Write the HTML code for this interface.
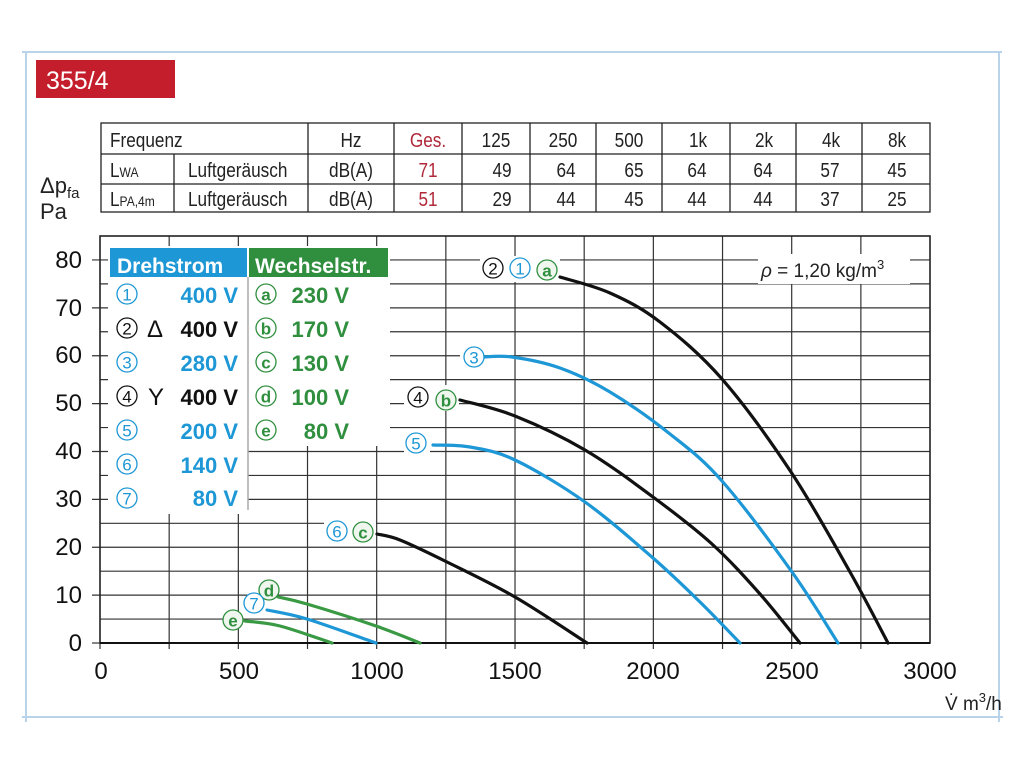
<!DOCTYPE html>
<html><head><meta charset="utf-8"><style>
html,body{margin:0;padding:0;background:#fff;}
svg{display:block;}
.n{font-family:"Liberation Sans",sans-serif;transform:scaleX(.86);transform-box:fill-box;}
.nl{transform-origin:left center}
.nm{transform-origin:center}
.s{font-family:"Liberation Sans",sans-serif;}
</style></head><body>
<svg width="1024" height="768" viewBox="0 0 1024 768" xmlns="http://www.w3.org/2000/svg">
<g stroke="#b9d3ea" stroke-width="2" fill="none">
<line x1="22" y1="52" x2="1002" y2="52"/>
<line x1="26" y1="52" x2="26" y2="722"/>
<line x1="22" y1="717" x2="1003" y2="717"/>
<line x1="999" y1="52" x2="999" y2="722"/>
</g>
<rect x="36" y="60" width="139" height="38" fill="#c41e2c"/>
<text x="46" y="89" class="s" font-size="25" fill="#fff">355/4</text>

<g stroke="#222" stroke-width="1.3" fill="none">
<rect x="101" y="123" width="829" height="89"/>
<line x1="101" y1="154" x2="930" y2="154"/>
<line x1="101" y1="184" x2="930" y2="184"/>
<line x1="174" y1="154" x2="174" y2="212"/>
<line x1="308" y1="123" x2="308" y2="212"/>
<line x1="394" y1="123" x2="394" y2="212"/>
<line x1="462" y1="123" x2="462" y2="212"/>
<line x1="530" y1="123" x2="530" y2="212"/>
<line x1="596" y1="123" x2="596" y2="212"/>
<line x1="662" y1="123" x2="662" y2="212"/>
<line x1="730" y1="123" x2="730" y2="212"/>
<line x1="796" y1="123" x2="796" y2="212"/>
<line x1="862" y1="123" x2="862" y2="212"/>
</g>
<g font-size="20" fill="#222">
<text class="n nl" x="110" y="147">Frequenz</text>
<text class="n nl" x="110" y="177">L<tspan font-size="14">WA</tspan></text>
<text class="n nl" x="110" y="206">L<tspan font-size="14">PA,4m</tspan></text>
<text class="n nl" x="188" y="177">Luftgeräusch</text>
<text class="n nl" x="188" y="206">Luftgeräusch</text>
<g text-anchor="middle">
<text class="n nm" x="351" y="147">Hz</text><text class="n nm" x="351" y="177">dB(A)</text><text class="n nm" x="351" y="206">dB(A)</text>
<text class="n nm" x="428" y="147" fill="#b0283a">Ges.</text><text class="n nm" x="428" y="177" fill="#b0283a">71</text><text class="n nm" x="428" y="206" fill="#b0283a">51</text>
<text class="n nm" x="496" y="147">125</text><text class="n nm" x="502" y="177">49</text><text class="n nm" x="502" y="206">29</text>
<text class="n nm" x="563" y="147">250</text><text class="n nm" x="566" y="177">64</text><text class="n nm" x="566" y="206">44</text>
<text class="n nm" x="629" y="147">500</text><text class="n nm" x="634" y="177">65</text><text class="n nm" x="634" y="206">45</text>
<text class="n nm" x="698" y="147">1k</text><text class="n nm" x="697" y="177">64</text><text class="n nm" x="697" y="206">44</text>
<text class="n nm" x="764" y="147">2k</text><text class="n nm" x="763" y="177">64</text><text class="n nm" x="763" y="206">44</text>
<text class="n nm" x="831" y="147">4k</text><text class="n nm" x="830" y="177">57</text><text class="n nm" x="830" y="206">37</text>
<text class="n nm" x="897" y="147">8k</text><text class="n nm" x="897" y="177">45</text><text class="n nm" x="897" y="206">25</text>
</g></g>
<text x="40" y="193" class="s" font-size="22" fill="#222">Δp<tspan font-size="15" dy="5">fa</tspan></text>
<text x="40" y="219" class="s" font-size="22" fill="#222">Pa</text>

<g id="grid" stroke="#333" stroke-width="1.2" fill="none"></g>
<rect x="100" y="236" width="830" height="407" fill="none" stroke="#222" stroke-width="1.6"/>
<line x1="100" y1="643" x2="930" y2="643" stroke="#111" stroke-width="2"/>

<g class="s" font-size="24" fill="#111" text-anchor="end">
<text x="82" y="268">80</text><text x="82" y="316">70</text><text x="82" y="363">60</text>
<text x="82" y="411">50</text><text x="82" y="459">40</text><text x="82" y="507">30</text>
<text x="82" y="555">20</text><text x="82" y="603">10</text><text x="82" y="651">0</text>
</g>
<g class="s" font-size="24" fill="#111" text-anchor="middle">
<text x="101" y="679">0</text><text x="239" y="679">500</text><text x="377" y="679">1000</text>
<text x="515" y="679">1500</text><text x="653" y="679">2000</text><text x="792" y="679">2500</text>
<text x="930" y="679">3000</text>
</g>
<text x="945" y="710" class="s" font-size="19" fill="#222">V̇ m<tspan font-size="13" dy="-8">3</tspan><tspan dy="8">/h</tspan></text>

<rect x="758" y="254" width="152" height="30" fill="#fff"/>
<text x="761" y="277" class="s" font-size="19" fill="#222"><tspan font-style="italic">ρ</tspan> = 1,20 kg/m<tspan font-size="13" dy="-8">3</tspan></text>

<rect x="108" y="246" width="140" height="268" fill="#fff"/>
<rect x="248" y="246" width="142" height="200" fill="#fff"/>
<rect x="110" y="248" width="137" height="29" fill="#1d97d5"/>
<rect x="249" y="248" width="139" height="29" fill="#2f8f3e"/>
<line x1="248" y1="277" x2="248" y2="510" stroke="#aaa" stroke-width="1.5"/>
<g class="s" font-size="21" font-weight="bold" fill="#fff">
<text x="117" y="273">Drehstrom</text><text x="255" y="273">Wechselstr.</text>
</g>
<g class="s" font-size="24" fill="#111">
<text x="147" y="337">Δ</text>
<text x="148" y="405">Y</text>
</g>
<g class="s" font-size="22" font-weight="bold" text-anchor="end">
<text x="238" y="303" fill="#1d97d5">400 V</text>
<text x="238" y="337" fill="#111">400 V</text>
<text x="238" y="371" fill="#1d97d5">280 V</text>
<text x="238" y="405" fill="#111">400 V</text>
<text x="238" y="439" fill="#1d97d5">200 V</text>
<text x="238" y="473" fill="#1d97d5">140 V</text>
<text x="238" y="506" fill="#1d97d5">80 V</text>
<g fill="#2f8f3e"><text x="349" y="303">230 V</text><text x="349" y="337">170 V</text><text x="349" y="371">130 V</text><text x="349" y="405">100 V</text><text x="349" y="439">80 V</text></g>
</g>

<rect x="480" y="256" width="80" height="26" fill="#fff"/>
<rect x="460" y="345" width="24" height="24" fill="#fff"/>
<rect x="404" y="385" width="55" height="26" fill="#fff"/>
<rect x="404" y="432" width="26" height="24" fill="#fff"/>
<rect x="324" y="520" width="52" height="26" fill="#fff"/>

<g id="curves" fill="none" stroke-width="3.2" stroke-linecap="round"></g>
<g id="marks"></g>
</svg>
<script>
var g=document.getElementById('grid'),s='';
for(var i=1;i<12;i++){var x=100+i*69.17;s+='<line x1="'+x+'" y1="236" x2="'+x+'" y2="649"/>';}
for(var j=1;j<17;j++){var y=643-j*23.94;s+='<line x1="'+(j%2==0?92:100)+'" y1="'+y+'" x2="930" y2="'+y+'"/>';}
s+='<line x1="92" y1="643" x2="100" y2="643"/><line x1="100" y1="643" x2="100" y2="649"/>';
g.innerHTML=s;
function path(p){var d='M'+p[0][0]+','+p[0][1];
for(var i=0;i<p.length-1;i++){var p0=p[i-1]||p[i],p1=p[i],p2=p[i+1],p3=p[i+2]||p2;
d+=' C'+(p1[0]+(p2[0]-p0[0])/6)+','+(p1[1]+(p2[1]-p0[1])/6)+' '+(p2[0]-(p3[0]-p1[0])/6)+','+(p2[1]-(p3[1]-p1[1])/6)+' '+p2[0]+','+p2[1];}
return d;}
var B='#111',L='#1d97d5',G='#3a9a44',GB='#2f8f3e';
var C=[
[B,[[560,277],[610,293],[660,322],[722,379],[791,472],[850,572],[888,643]]],
[L,[[482,357],[512,357],[560,368],[610,392],[670,434],[722,481],[792,572],[838,643]]],
[B,[[460,400],[515,416],[585,450],[653,497],[712,544],[760,594],[800,643]]],
[L,[[433,445],[470,447],[515,460],[585,502],[653,558],[700,602],[740,643]]],
[B,[[377,534],[400,540],[447,562],[515,597],[587,643]]],
[G,[[278,597],[307,604],[376,626],[420,643]]],
[L,[[267,610],[307,619],[376,643]]],
[G,[[245,621],[280,626],[332,643]]]];
var h='';C.forEach(function(c){h+='<path stroke="'+c[0]+'" d="'+path(c[1])+'"/>';});
document.getElementById('curves').innerHTML=h;
function cm(x,y,col,ch,bold,fill){return '<circle cx="'+x+'" cy="'+y+'" r="10" fill="'+(fill||'#fff')+'" stroke="'+col+'" stroke-width="1.3"/><text x="'+x+'" y="'+(y+6.5)+'" text-anchor="middle" font-family="Liberation Sans,sans-serif" font-size="17" '+(bold?'font-weight="bold" ':'')+'fill="'+col+'">'+ch+'</text>';}
var m='';
var LEG=[[L,'1'],[B,'2'],[L,'3'],[B,'4'],[L,'5'],[L,'6'],[L,'7']];
LEG.forEach(function(e,i){m+=cm(127,294+i*34,e[0],e[1]);});
['a','b','c','d','e'].forEach(function(c,i){m+=cm(266,294+i*34,GB,c,true);});
m+=cm(493,268,B,'2')+cm(520,268,L,'1')+cm(547,270,GB,'a',true,'#eef6ee');
m+=cm(474,357,L,'3');
m+=cm(418,397,B,'4')+cm(446,400,GB,'b',true,'#eef6ee');
m+=cm(416,443,L,'5');
m+=cm(337,531,L,'6')+cm(363,532,GB,'c',true,'#eef6ee');
m+=cm(269,590,GB,'d',true,'#eef6ee')+cm(254,603,L,'7')+cm(233,620,GB,'e',true,'#eef6ee');
document.getElementById('marks').innerHTML=m;
</script>
</body></html>
